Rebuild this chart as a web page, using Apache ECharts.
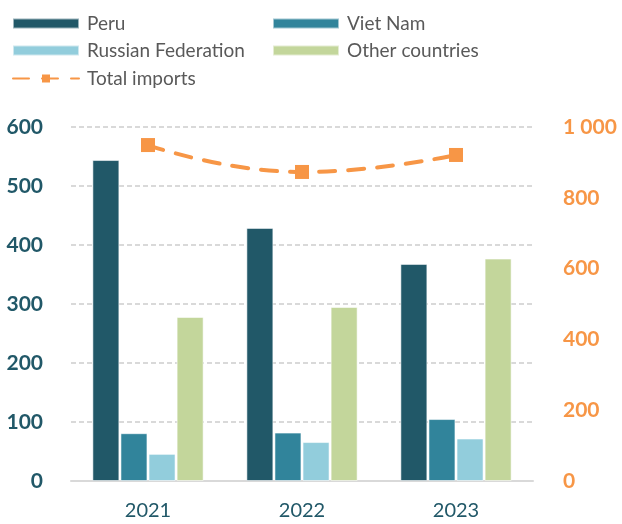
<!DOCTYPE html>
<html lang="en">
<head>
    <meta charset="UTF-8">
    <script src="https://cdn.jsdelivr.net/npm/echarts@6/dist/echarts.min.js"></script>
    <style>
        * { margin: 0; padding: 0; }
        #chart { width: 622px; height: 524px; }
    </style>
</head>
<body>
<div id="chart"></div>
<script>
    const years = ['2021', '2022', '2023']
    const peru = [544, 429, 368]
    const vietNam = [81, 82, 105]
    const russia = [46, 66, 72]
    const others = [278, 295, 377]
    const totalImports = [949, 873, 921]

    const teal = '#215868'
    const orange = '#F79646'
    const font = 'Lato'

    const bar = (name, data, color) => ({
        name, data,
        type: 'bar',
        yAxisIndex: 0,
        barWidth: 27,
        barGap: '4%',
        itemStyle: {color, borderColor: 'rgba(255,255,255,0.55)', borderWidth: 1}
    })

    const legend = (name, left, top, icon) => ({
        data: [name],
        left, top, icon,
        itemWidth: 66,
        itemHeight: 10,
        textStyle: {color: '#595959', fontSize: 19, fontFamily: font, padding: [0, 0, 0, 3]},
        selectedMode: false
    })

    const chart = echarts.init(document.getElementById('chart'))
    chart.setOption({
        animation: false,
        grid: {left: 71, right: 89, top: 127, bottom: 43},
        legend: [
            legend('Peru', 7, 9, 'rect'),
            legend('Viet Nam', 267, 9, 'rect'),
            legend('Russian Federation', 7, 36, 'rect'),
            legend('Other countries', 267, 36, 'rect'),
            legend('Total imports', 7, 64)
        ],
        xAxis: {
            type: 'category',
            data: years,
            axisLine: {lineStyle: {color: '#D9D9D9', width: 2}},
            axisTick: {show: false},
            axisLabel: {color: teal, fontSize: 20, fontFamily: font, margin: 20}
        },
        yAxis: [{
            type: 'value',
            min: 0, max: 600, interval: 100,
            axisLabel: {color: teal, fontSize: 21, fontWeight: 'bold', fontFamily: font, margin: 28},
            splitLine: {lineStyle: {color: '#D9D9D9', width: 2, type: [5, 3]}}
        }, {
            type: 'value',
            min: 0, max: 1000, interval: 200,
            axisLabel: {
                color: orange, fontSize: 21, fontWeight: 'bold', fontFamily: font, margin: 30,
                formatter: v => String(v).replace(/\B(?=(\d{3})+(?!\d))/g, ' ')
            },
            splitLine: {show: false}
        }],
        series: [
            bar('Peru', peru, teal),
            bar('Viet Nam', vietNam, '#31849B'),
            bar('Russian Federation', russia, '#92CDDC'),
            bar('Other countries', others, '#C3D69B'),
            {
                name: 'Total imports',
                type: 'line',
                yAxisIndex: 1,
                data: totalImports,
                smooth: 0.5,
                symbol: 'rect',
                symbolSize: 14,
                z: 5,
                itemStyle: {color: orange},
                lineStyle: {color: orange, width: 4, type: [16, 13], cap: 'round'}
            }
        ]
    })
</script>
</body>
</html>
